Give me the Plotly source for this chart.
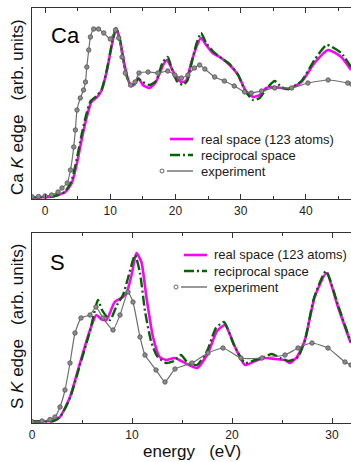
import plotly.graph_objects as go

# ---------------- data (energy in eV, intensity in arb. units) ----------------
ca_exp_e = [-2.0, -1.0, 0.0, 1.0, 2.0, 2.6, 3.4, 3.9, 4.4, 4.65, 4.9, 5.4, 5.9, 6.2, 6.4, 6.7, 6.95,
            7.45, 8.2, 9.0, 10.0, 10.8, 11.3, 11.8, 12.3, 13.1, 13.8, 14.4, 15.8, 17.3, 18.8, 19.9,
            20.9, 21.9, 22.9, 23.7, 24.5, 26.0, 27.5, 29.0, 30.6, 31.6, 33.2, 35.2, 37.8, 40.3,
            43.4, 46.4, 47.0]
ca_exp = [2.3, 2.5, 3, 4, 7, 11, 16, 29, 52, 69, 89, 101, 109, 117, 132, 149, 162,
          170, 170, 166, 160, 169, 161, 142, 126, 114, 117, 126, 127, 126, 128, 124,
          121, 124, 131, 134, 130, 122, 118, 113, 107, 106, 108, 111, 111, 116,
          119, 116, 115]

ca_real_e = [-2.0, 1.0, 2.0, 3.1, 4.1, 4.9, 5.7, 6.4, 7.1, 8.0, 8.7, 9.5, 10.3, 10.9, 11.5, 12.05,
             12.6, 13.2, 13.6, 14.3, 15.0, 16.0, 17.0, 18.1, 18.7, 19.3, 20.1, 20.9, 21.6, 22.4,
             23.2, 23.9, 24.7, 25.7, 27.0, 28.3, 29.6, 30.7, 31.9, 32.9, 33.9, 35.2, 37.3, 39.3,
             41.3, 43.4, 45.4, 46.9]
ca_real = [1.7, 2.3, 4, 7, 16, 36, 62, 82, 97, 102, 109, 129, 156, 171, 159, 139,
           122, 113, 114, 121, 114, 111, 117, 134, 139, 132, 122, 117, 118, 136,
           152, 161, 154, 146, 141, 134, 124, 109, 102, 104, 111, 112, 110, 117,
           136, 149, 142, 129]

ca_rec_e = [-2.0, 1.0, 2.0, 3.0, 4.0, 4.8, 5.6, 6.3, 7.0, 7.9, 8.7, 9.5, 10.3, 10.9, 11.5, 12.0,
            12.6, 13.2, 13.6, 14.3, 15.0, 16.0, 17.0, 18.0, 18.8, 19.4, 20.2, 21.1, 21.8, 22.5,
            23.2, 23.9, 24.7, 25.7, 27.0, 28.3, 29.6, 30.7, 31.9, 32.9, 33.9, 35.2, 36.2, 37.3,
            39.3, 41.3, 43.2, 45.4, 46.9]
ca_rec = [1.7, 2.3, 4, 7, 17, 38, 64, 84, 98, 103, 110, 130, 157, 171, 158, 138,
          121, 114, 115, 120, 117, 114, 118, 136, 142, 131, 118, 114, 118, 137,
          155, 166, 156, 148, 141, 135, 124, 108, 99, 101, 110, 118, 112, 110,
          118, 139, 154, 146, 132]

s_exp_e = [0.0, 1.0, 1.8, 2.3, 2.8, 3.3, 3.8, 4.3, 4.9, 5.8, 6.4, 7.1, 8.1, 8.8, 9.6, 10.1, 10.8,
           11.3, 12.4, 13.3, 14.3, 16.0, 17.6, 19.1, 20.9, 23.0, 25.3, 26.6, 28.0, 29.6, 31.3, 31.9]
s_exp = [1.3, 2, 3.5, 6, 16, 33, 60, 90, 105, 108, 116, 105, 93, 108, 131, 121, 86,
         68, 53, 41, 54, 60, 70, 75, 65, 65, 68, 75, 80, 75, 61, 58]

s_real_e = [0.0, 1.0, 2.1, 2.8, 3.8, 4.8, 5.8, 6.44, 6.9, 7.44, 8.27, 9.1, 9.5, 10.0, 10.44, 10.94,
            11.44, 12.1, 12.77, 13.44, 14.27, 15.3, 16.5, 17.6, 18.5, 19.3, 20.3, 21.3, 22.3,
            23.3, 24.3, 25.3, 25.8, 26.5, 27.3, 28.27, 29.44, 30.6, 31.77, 31.9]
s_real = [1.5, 1.8, 2, 6, 26, 60, 93, 108, 104, 103, 121, 126, 131, 150, 170, 161,
          126, 86, 66, 63, 65, 60, 55, 70, 92, 98, 76, 58, 62,
          65, 64, 63, 60, 66, 83, 126, 150, 116, 83, 80]

s_rec_e = [0.0, 1.0, 2.1, 2.8, 3.8, 4.8, 5.8, 6.6, 7.0, 7.8, 8.5, 9.1, 9.6, 10.3, 10.8, 11.3,
           11.9, 12.5, 13.4, 14.2, 14.9, 15.6, 16.5, 17.5, 18.4, 19.2, 20.2, 21.3, 22.3, 23.2,
           24.0, 24.8, 25.7, 26.6, 27.3, 28.2, 29.4, 30.6, 31.77, 31.9]
s_rec = [1.5, 1.8, 2, 6, 25, 58, 92, 123, 113, 103, 118, 128, 145, 168, 150, 112,
         82, 67, 60, 62, 68, 60, 58, 72, 95, 101, 78, 60, 63, 66,
         69, 65, 62, 66, 83, 125, 152, 118, 84, 81]

legend_labels = ["real space (123 atoms)", "reciprocal space", "experiment"]
x_ticks = [0, 10, 20, 30, 40]

# ---------------- styles ----------------
MAG = "#ff00ff"
GRN = "#006400"
GRY = "#6e6e6e"
FONT = "Liberation Sans, Arial, sans-serif"
W, H = 351, 462
ML, MR, MT, MB = 32, 0, 8, 39
PW, PH = W - ML - MR, H - MT - MB


def px2x(px):
    return (px - ML) / PW


def py2y(py):
    return (H - MB - py) / PH


top_dom = [py2y(199), 1.0]
bot_dom = [0.0, py2y(233)]

fig = go.Figure()


def add_panel(e_real, v_real, e_rec, v_rec, e_exp, v_exp, xa, ya):
    fig.add_trace(go.Scatter(x=e_real, y=v_real, mode="lines", xaxis=xa, yaxis=ya,
                             line=dict(color=MAG, width=2.6, shape="spline", smoothing=0.55),
                             showlegend=False))
    fig.add_trace(go.Scatter(x=e_rec, y=v_rec, mode="lines", xaxis=xa, yaxis=ya,
                             line=dict(color=GRN, width=2.4, shape="spline", smoothing=0.55,
                                       dash="10px,3px,2px,3px"),
                             showlegend=False))
    fig.add_trace(go.Scatter(x=e_exp, y=v_exp, mode="lines+markers", xaxis=xa, yaxis=ya,
                             line=dict(color=GRY, width=1.2, shape="spline", smoothing=0.45),
                             marker=dict(symbol="circle", size=4.5, color="#8a8a8a",
                                         line=dict(color="#555555", width=0.8)),
                             showlegend=False))


add_panel(ca_real_e, ca_real, ca_rec_e, ca_rec, ca_exp_e, ca_exp, "x", "y")
add_panel(s_real_e, s_real, s_rec_e, s_rec, s_exp_e, s_exp, "x2", "y2")

axis_common = dict(showline=True, linecolor="#333333", linewidth=1.3, showgrid=False,
                   zeroline=False)
xcommon = dict(axis_common, mirror="ticks", ticks="inside", ticklen=5, tickwidth=1.2,
               tickcolor="#333333", tickvals=x_ticks,
               tickfont=dict(family=FONT, size=12, color="#222222"),
               minor=dict(ticks="inside", dtick=5, ticklen=3, tickwidth=1.0,
                          tickcolor="#333333", showgrid=False))
ycommon = dict(axis_common, mirror=False, ticks="", showticklabels=False)

fig.update_layout(
    width=W, height=H,
    margin=dict(l=ML, r=MR, t=MT, b=MB),
    paper_bgcolor="white", plot_bgcolor="white",
    showlegend=False,
    xaxis=dict(xcommon, range=[-2.0, 46.9], anchor="y", tick0=0),
    yaxis=dict(ycommon, range=[0, 191], domain=top_dom, anchor="x"),
    xaxis2=dict(xcommon, range=[0, 31.9], anchor="y2", tick0=0),
    yaxis2=dict(ycommon, range=[0, 190], domain=bot_dom, anchor="x2"),
)

annotations = []
shapes = []

# panel labels
annotations.append(dict(text="Ca", x=px2x(49), y=py2y(35), xref="paper", yref="paper",
                        xanchor="left", yanchor="middle", showarrow=False,
                        font=dict(family=FONT, size=22, color="black")))
annotations.append(dict(text="S", x=px2x(48), y=py2y(262), xref="paper", yref="paper",
                        xanchor="left", yanchor="middle", showarrow=False,
                        font=dict(family=FONT, size=22, color="black")))

# y titles
annotations.append(dict(text="Ca <i>K</i> edge&nbsp;&nbsp;&nbsp;(arb. units)",
                        x=px2x(17), y=py2y(107), xref="paper", yref="paper",
                        textangle=-90, showarrow=False, xanchor="center", yanchor="middle",
                        font=dict(family=FONT, size=17, color="#111111")))
annotations.append(dict(text="S <i>K</i> edge&nbsp;&nbsp;&nbsp;(arb. units)",
                        x=px2x(17), y=py2y(327), xref="paper", yref="paper",
                        textangle=-90, showarrow=False, xanchor="center", yanchor="middle",
                        font=dict(family=FONT, size=17, color="#111111")))
# x title
annotations.append(dict(text="energy&nbsp;&nbsp;&nbsp;(eV)", x=px2x(192), y=py2y(451),
                        xref="paper", yref="paper", showarrow=False,
                        xanchor="center", yanchor="middle",
                        font=dict(family=FONT, size=17, color="#111111")))


def add_legend(rows_py, line_x0, line_x1, text_x, circ_x):
    styles = [dict(color=MAG, width=2.6), dict(color=GRN, width=2.4, dash="10px,3px,2px,3px"),
              dict(color=GRY, width=1.4)]
    for i, (lab, st) in enumerate(zip(legend_labels, styles)):
        yy = py2y(rows_py[i])
        x0 = line_x0 if i < 2 else line_x0 - 3
        shapes.append(dict(type="line", xref="paper", yref="paper", x0=px2x(x0), x1=px2x(line_x1),
                           y0=yy, y1=yy, line=st))
        annotations.append(dict(text=lab, x=px2x(text_x), y=yy, xref="paper", yref="paper",
                                xanchor="left", yanchor="middle", showarrow=False,
                                font=dict(family=FONT, size=13, color="#1a1a1a")))
    yy = rows_py[2]
    shapes.append(dict(type="circle", xref="paper", yref="paper",
                       x0=px2x(circ_x - 2), x1=px2x(circ_x + 2),
                       y0=py2y(yy + 2), y1=py2y(yy - 2),
                       line=dict(color="#666666", width=1), fillcolor="white"))


add_legend([139, 155, 171], 170, 193, 199, 162)
add_legend([255, 271, 287], 184, 207, 212, 176)

fig.update_layout(annotations=annotations, shapes=shapes)
fig.write_html("out.html")
